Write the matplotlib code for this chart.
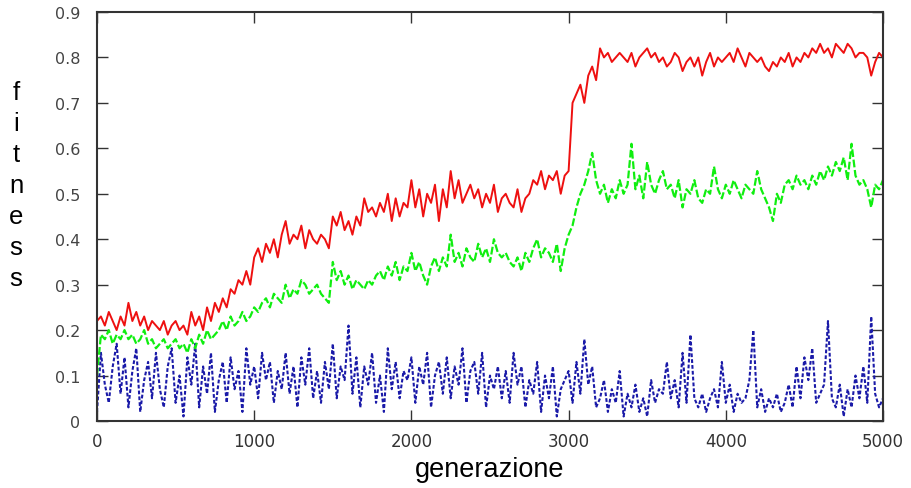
import matplotlib
matplotlib.use("Agg")
import matplotlib.pyplot as plt
import numpy as np

# generations sampled every 25 steps
step = 25

# best fitness (red)
best = [
    0.22, 0.23, 0.21, 0.24, 0.22, 0.20, 0.23, 0.21,
    0.26, 0.22, 0.24, 0.21, 0.23, 0.20, 0.22, 0.21,
    0.20, 0.22, 0.19, 0.21, 0.22, 0.20, 0.21, 0.19,
    0.24, 0.21, 0.23, 0.20, 0.25, 0.22, 0.26, 0.24,
    0.27, 0.25, 0.29, 0.28, 0.31, 0.30, 0.33, 0.30,
    0.36, 0.38, 0.35, 0.39, 0.37, 0.40, 0.36, 0.41,
    0.44, 0.39, 0.41, 0.40, 0.43, 0.38, 0.42, 0.40,
    0.39, 0.41, 0.40, 0.38, 0.45, 0.43, 0.46, 0.42,
    0.44, 0.41, 0.45, 0.43, 0.49, 0.46, 0.47, 0.45,
    0.48, 0.46, 0.50, 0.44, 0.49, 0.45, 0.48, 0.47,
    0.53, 0.47, 0.51, 0.45, 0.50, 0.48, 0.52, 0.44,
    0.51, 0.47, 0.55, 0.49, 0.53, 0.48, 0.50, 0.52,
    0.49, 0.51, 0.47, 0.50, 0.48, 0.52, 0.46, 0.49,
    0.50, 0.48, 0.47, 0.51, 0.46, 0.49, 0.50, 0.53,
    0.52, 0.55, 0.51, 0.54, 0.53, 0.55, 0.50, 0.54,
    0.55, 0.70, 0.72, 0.74, 0.70, 0.76, 0.78, 0.75,
    0.82, 0.80, 0.81, 0.79, 0.80, 0.81, 0.80, 0.79,
    0.81, 0.78, 0.80, 0.81, 0.82, 0.80, 0.81, 0.79,
    0.80, 0.78, 0.79, 0.81, 0.80, 0.77, 0.79, 0.80,
    0.78, 0.80, 0.76, 0.79, 0.81, 0.78, 0.80, 0.79,
    0.80, 0.81, 0.79, 0.82, 0.80, 0.78, 0.81, 0.80,
    0.79, 0.80, 0.78, 0.77, 0.79, 0.78, 0.80, 0.79,
    0.81, 0.78, 0.80, 0.79, 0.81, 0.80, 0.82, 0.81,
    0.83, 0.81, 0.82, 0.80, 0.83, 0.82, 0.81, 0.83,
    0.82, 0.80, 0.81, 0.81, 0.80, 0.76, 0.79, 0.81,
    0.80,
]

# average fitness (green)
average = [
    0.10, 0.19, 0.18, 0.20, 0.17, 0.19, 0.18, 0.20,
    0.18, 0.19, 0.17, 0.18, 0.20, 0.17, 0.18, 0.16,
    0.17, 0.18, 0.16, 0.17, 0.18, 0.16, 0.17, 0.15,
    0.18, 0.16, 0.19, 0.17, 0.20, 0.18, 0.19, 0.20,
    0.22, 0.20, 0.23, 0.21, 0.22, 0.24, 0.22, 0.23,
    0.25, 0.24, 0.26, 0.27, 0.25, 0.28, 0.27, 0.26,
    0.30, 0.27, 0.29, 0.28, 0.31, 0.30, 0.28, 0.29,
    0.30, 0.28, 0.27, 0.26, 0.35, 0.31, 0.33, 0.30,
    0.32, 0.29, 0.31, 0.30, 0.29, 0.31, 0.30, 0.32,
    0.33, 0.31, 0.34, 0.32, 0.35, 0.31, 0.34, 0.33,
    0.37, 0.33, 0.35, 0.32, 0.30, 0.34, 0.36, 0.33,
    0.36, 0.34, 0.41, 0.35, 0.37, 0.34, 0.38, 0.36,
    0.35, 0.39, 0.36, 0.38, 0.35, 0.40, 0.37, 0.36,
    0.37, 0.35, 0.34, 0.36, 0.33, 0.37, 0.35, 0.38,
    0.40, 0.36, 0.38, 0.37, 0.35, 0.39, 0.33, 0.38,
    0.41, 0.43, 0.47, 0.50, 0.52, 0.55, 0.59, 0.53,
    0.50, 0.52, 0.48, 0.51, 0.49, 0.53, 0.50, 0.52,
    0.61, 0.51, 0.54, 0.49, 0.57, 0.52, 0.50, 0.53,
    0.55, 0.51, 0.52, 0.49, 0.53, 0.47, 0.51, 0.50,
    0.53, 0.49, 0.48, 0.51, 0.50, 0.56, 0.51, 0.49,
    0.52, 0.50, 0.53, 0.51, 0.49, 0.52, 0.51, 0.50,
    0.55, 0.51, 0.49, 0.47, 0.44, 0.50, 0.48, 0.52,
    0.53, 0.51, 0.54, 0.52, 0.53, 0.51, 0.54, 0.52,
    0.55, 0.53, 0.56, 0.54, 0.57, 0.55, 0.58, 0.53,
    0.61, 0.54, 0.52, 0.53, 0.51, 0.47, 0.52, 0.51,
    0.53,
]

# worst fitness (blue)
worst = [
    0.02, 0.15, 0.08, 0.04, 0.12, 0.17, 0.06, 0.14,
    0.03, 0.11, 0.16, 0.02, 0.09, 0.13, 0.05, 0.15,
    0.07, 0.03, 0.12, 0.16, 0.04, 0.10, 0.01, 0.14,
    0.08, 0.17, 0.03, 0.12, 0.06, 0.15, 0.02, 0.09,
    0.13, 0.04, 0.14, 0.07, 0.11, 0.02, 0.16, 0.08,
    0.12, 0.05, 0.15, 0.09, 0.13, 0.04, 0.11, 0.07,
    0.15, 0.06, 0.12, 0.03, 0.14, 0.08, 0.16, 0.05,
    0.11, 0.04, 0.13, 0.07, 0.17, 0.05, 0.12, 0.09,
    0.21, 0.06, 0.14, 0.03, 0.12, 0.08, 0.15, 0.04,
    0.10, 0.02, 0.16, 0.07, 0.13, 0.05, 0.11, 0.09,
    0.14, 0.04, 0.12, 0.08, 0.15, 0.03, 0.10, 0.13,
    0.06, 0.14, 0.05, 0.12, 0.08, 0.16, 0.04, 0.11,
    0.13, 0.06, 0.15, 0.03, 0.10, 0.07, 0.12, 0.05,
    0.11, 0.04, 0.15, 0.08, 0.12, 0.03, 0.09, 0.06,
    0.13, 0.02, 0.10, 0.05, 0.12, 0.01, 0.07, 0.09,
    0.11, 0.04, 0.13, 0.06, 0.18, 0.08, 0.12, 0.03,
    0.05, 0.09, 0.02, 0.07, 0.04, 0.11, 0.01, 0.06,
    0.03, 0.08, 0.02, 0.05, 0.01, 0.09, 0.04, 0.07,
    0.06, 0.13, 0.05, 0.09, 0.03, 0.15, 0.04, 0.19,
    0.05, 0.03, 0.06, 0.02, 0.05, 0.07, 0.03, 0.13,
    0.04, 0.08, 0.02, 0.06, 0.04, 0.05, 0.09, 0.20,
    0.03, 0.07, 0.02, 0.05, 0.03, 0.06, 0.02, 0.04,
    0.08, 0.03, 0.12, 0.05, 0.14, 0.09, 0.16, 0.04,
    0.06, 0.08, 0.22, 0.05, 0.03, 0.08, 0.01, 0.07,
    0.03, 0.10, 0.05, 0.12, 0.04, 0.23, 0.06, 0.03,
    0.05,
]

xticks = [0, 1000, 2000, 3000, 4000, 5000]
yticks = [0, 0.1, 0.2, 0.3, 0.4, 0.5, 0.6, 0.7, 0.8, 0.9]
ytick_labels = ["0", "0.1", "0.2", "0.3", "0.4", "0.5", "0.6", "0.7", "0.8", "0.9"]

gen = np.arange(len(best)) * step

fig = plt.figure(figsize=(9.12, 4.89), dpi=100)
ax = fig.add_axes([97 / 912, 67 / 489, 786 / 912, 409 / 489])

ax.plot(gen, worst, color="#1a1aa8", linewidth=1.5, linestyle=(0, (1.8, 1.0)))
ax.plot(gen, average, color="#10ee10", linewidth=1.6, linestyle=(0, (3.5, 1.2)))
ax.plot(gen, best, color="#ee1010", linewidth=1.4)

ax.set_xlim(0, 5000)
ax.set_ylim(0, 0.9)
ax.set_xticks(xticks)
ax.set_xticklabels([str(t) for t in xticks], fontsize=12, color="#333333")
ax.set_yticks(yticks)
ax.set_yticklabels(ytick_labels, fontsize=11.5, color="#444444")
ax.tick_params(direction="in", length=8, width=1, top=True, right=True,
               color="#333333")
ax.tick_params(axis="y", pad=12)
ax.tick_params(axis="x", pad=8)
for s in ax.spines.values():
    s.set_color("#333333")
    s.set_linewidth(1.5)

ax.set_xlabel("generazione", fontsize=19.5, family="Liberation Sans", labelpad=4)
fig.text(16 / 912, 1 - 186 / 489, "f\ni\nt\nn\ne\ns\ns", fontsize=18.5,
         family="Liberation Sans", ha="center", va="center", linespacing=1.36)

fig.savefig("out.png", dpi=100)
